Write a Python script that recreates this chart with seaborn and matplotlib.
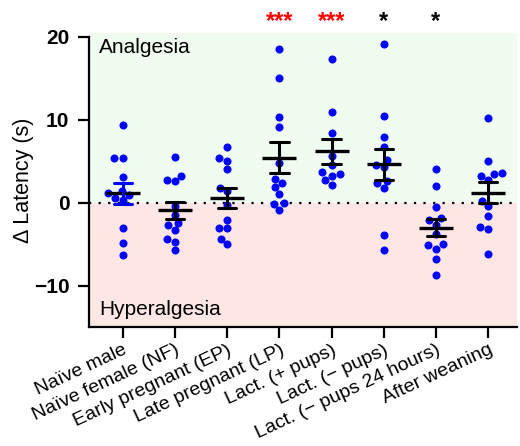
import matplotlib
matplotlib.use("Agg")
import matplotlib.pyplot as plt
import numpy as np
import pandas as pd
import seaborn as sns

# ── data (Δ latency in s) ────────────────────────────────────────────────────
groups = [
    "Naïve male",
    "Naïve female (NF)",
    "Early pregnant (EP)",
    "Late pregnant (LP)",
    "Lact. (+ pups)",
    "Lact. (− pups)",
    "Lact. (− pups 24 hours)",
    "After weaning",
]
naive_male = [9.4, 5.4, 5.4, 3.1, 1.5, 1.2, 1.0, 0.6, 0.4, -3.0, -4.8, -6.3]
naive_female = [5.5, 3.3, 2.8, 2.6, -0.4, -1.4, -2.4, -2.7, -3.3, -4.4, -4.7, -5.7]
early_preg = [6.8, 5.4, 5.1, 4.1, 1.8, 1.4, -0.2, -2.0, -3.0, -3.0, -4.3, -4.9]
late_preg = [18.6, 15.1, 10.4, 9.1, 4.8, 2.9, 2.4, 1.9, 1.1, 0.0, -0.1, -0.8]
lact_pups = [17.4, 10.9, 8.4, 5.7, 4.6, 3.7, 3.5, 3.3, 2.8, 2.2]
lact_no_pups = [19.2, 10.5, 8.0, 6.7, 5.2, 4.6, 4.3, 2.7, 2.4, 1.8, -3.9, -5.7]
lact_no_pups_24h = [4.1, 2.0, -0.5, -1.8, -2.0, -2.6, -3.7, -4.9, -5.1, -5.5, -6.8, -8.7]
after_weaning = [10.2, 5.1, 3.6, 3.5, 3.3, 2.8, 0.2, -0.4, -1.6, -2.9, -3.1, -6.1]

series = [naive_male, naive_female, early_preg, late_preg,
          lact_pups, lact_no_pups, lact_no_pups_24h, after_weaning]

# significance marks above groups
sig_marks = {"Late pregnant (LP)": ("***", "red"),
             "Lact. (+ pups)": ("***", "red"),
             "Lact. (− pups)": ("*", "black"),
             "Lact. (− pups 24 hours)": ("*", "black")}

df = pd.DataFrame(
    [(g, v) for g, vals in zip(groups, series) for v in vals],
    columns=["group", "latency"],
)

# ── figure ───────────────────────────────────────────────────────────────────
sns.set_style("ticks")
plt.rcParams["font.family"] = ["Liberation Sans", "DejaVu Sans"]
plt.rcParams.update({"text.color": "black", "axes.labelcolor": "black",
                     "xtick.color": "black", "ytick.color": "black"})

fig = plt.figure(figsize=(5.2, 4.46), dpi=100)
ax = fig.add_axes([0.171, 0.2657, 0.823, 0.6608])
ax.set_facecolor("none")

ax.axhspan(0, 20.5, color="#effcef", zorder=0, lw=0)
ax.axhspan(-15, 0, color="#fde6e4", zorder=0, lw=0)
ax.axhline(0, color="black", lw=1.6, ls=(0, (1, 3.3)), zorder=0.5)

sns.swarmplot(data=df, x="group", y="latency", order=groups,
              color="#0000ff", size=5.8, ax=ax, zorder=1)
sns.pointplot(data=df, x="group", y="latency", order=groups,
              errorbar="se", linestyle="none", marker="_",
              markersize=25, markeredgewidth=2.4, capsize=0.35,
              color="black", err_kws={"linewidth": 2.2}, ax=ax)

# first group's SEM whiskers appear blue in the original
err_lines = [ln for ln in ax.lines
             if np.isnan(np.asarray(ln.get_ydata(), dtype=float)).any()]
if err_lines:
    err_lines[0].set_color("#0000ff")

ax.set_xlim(-0.65, 7.55)
ax.set_ylim(-15, 20.5)
ax.set_yticks([-10, 0, 10, 20])
ax.spines["left"].set_bounds(-15, 20)
sns.despine(ax=ax)
for side in ["left", "bottom"]:
    ax.spines[side].set_linewidth(1.6)
    ax.spines[side].set_color("black")

ax.tick_params(axis="both", length=8, width=1.6, color="black")
ax.tick_params(axis="y", labelsize=15, pad=6)
for lbl in ax.get_yticklabels():
    lbl.set_fontweight("bold")
ax.set_xticks(range(len(groups)))
ax.set_xticklabels(groups, rotation=25, ha="right", rotation_mode="anchor",
                   fontsize=14)
ax.tick_params(axis="x", pad=2)

ax.set_xlabel("")
ax.set_ylabel("Δ Latency (s)", fontsize=15.5, labelpad=0)

ax.text(-0.45, 18.7, "Analgesia", fontsize=15, va="center", ha="left")
ax.text(-0.45, -12.8, "Hyperalgesia", fontsize=15, va="center", ha="left")

for g, (mark, col) in sig_marks.items():
    ax.text(groups.index(g), 21.8, mark, color=col, fontsize=17,
            fontweight="bold", ha="center", va="center", clip_on=False)

fig.savefig("out.png", dpi=100)
